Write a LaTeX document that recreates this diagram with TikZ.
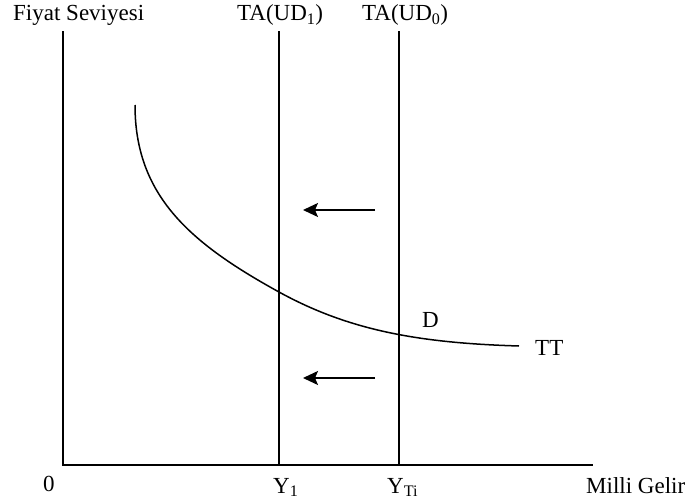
\documentclass[tikz,border=0pt]{standalone}
\usepackage{fontspec}
\setmainfont{Liberation Serif}
\usetikzlibrary{arrows.meta}
\tikzset{
  axisline/.style={line width=1.8pt,line cap=rect},
  curveline/.style={line width=1.5pt},
  shiftarrow/.style={line width=1.7pt,-{Stealth[length=15pt,width=14pt,inset=3pt]}},
  lbl/.style={inner sep=0pt,anchor=base west,font=\fontsize{23}{27}\selectfont}
}
\begin{document}
\begin{tikzpicture}[x=1pt,y=-1pt]
\useasboundingbox (0,0) rectangle (691,503);
% axes
\coordinate (O) at (63,465);
\coordinate (ytop) at (63,32);
\coordinate (xend) at (592,465);
\draw[axisline] (ytop) -- (O) -- (xend);
% vertical TA lines
\coordinate (v1top) at (279,32);
\coordinate (v1bot) at (279,465);
\coordinate (v0top) at (399,32);
\coordinate (v0bot) at (399,465);
\draw[axisline] (v1top) -- (v1bot);
\draw[axisline] (v0top) -- (v0bot);
% TT curve
\coordinate (c0) at (135,105);
\coordinate (c1) at (279,292);
\coordinate (c2) at (519,346);
\draw[curveline] (c0) .. controls (135,195) and (189,242.5) .. (c1)
  .. controls (349,330.5) and (419,343) .. (c2);
% arrows
\coordinate (a1s) at (375,210);
\coordinate (a1e) at (303,210);
\coordinate (a2s) at (375,378);
\coordinate (a2e) at (303,378);
\draw[shiftarrow] (a1s) -- (a1e);
\draw[shiftarrow] (a2s) -- (a2e);
% labels
\node[lbl] (fs) at (13,21) {Fiyat Seviyesi};
\node[lbl] (ta1) at (237,21) {TA(UD\textsubscript{1})};
\node[lbl] (ta0) at (362,21) {TA(UD\textsubscript{0})};
\node[lbl] (zero) at (43,491) {0};
\node[lbl] (y1) at (273,493) {Y\textsubscript{1}};
\node[lbl] (yti) at (387,493) {Y\textsubscript{Ti}};
\node[lbl] (mg) at (586,493) {Milli Gelir};
\node[lbl] (d) at (422,327) {D};
\node[lbl] (tt) at (535,355) {TT};
\end{tikzpicture}
\end{document}
